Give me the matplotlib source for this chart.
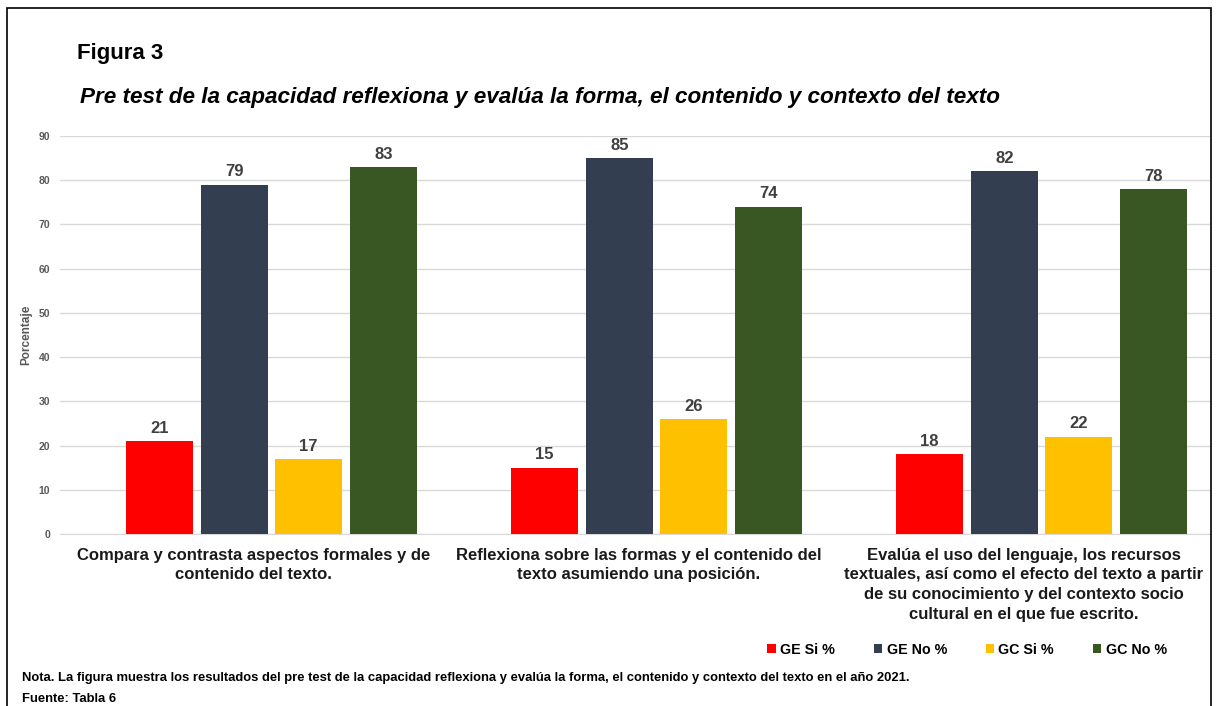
import matplotlib.pyplot as plt
import numpy as np
from matplotlib.patches import Patch, Rectangle

plt.rcParams['font.family'] = ['Liberation Sans', 'DejaVu Sans']

# data
categories = ['Compara y contrasta aspectos formales y de\ncontenido del texto.',
              'Reflexiona sobre las formas y el contenido del\ntexto asumiendo una posición.',
              'Evalúa el uso del lenguaje, los recursos\ntextuales, así como el efecto del texto a partir\nde su conocimiento y del contexto socio\ncultural en el que fue escrito.']
series_names = ['GE Si %', 'GE No %', 'GC Si %', 'GC No %']
ge_si = [21, 15, 18]
ge_no = [79, 85, 82]
gc_si = [17, 26, 22]
gc_no = [83, 74, 78]
yticks = list(range(0, 91, 10))

colors = ['#FF0000', '#333F50', '#FFC000', '#385723']
all_series = [ge_si, ge_no, gc_si, gc_no]

fig = plt.figure(figsize=(12.16, 7.06), dpi=100)
ax = fig.add_axes([60/1216, (706-534)/706, (1211-60)/1216, (534-136)/706])

x = np.arange(len(categories))
offsets = [-0.291, -0.096, 0.096, 0.291]
bw = 0.174
for vals, off, col in zip(all_series, offsets, colors):
    bars = ax.bar(x + off, vals, width=bw, color=col, zorder=3)
    for b, v in zip(bars, vals):
        ax.text(b.get_x() + b.get_width()/2, v + 1.2, str(v), ha='center', va='bottom',
                fontsize=12, fontweight='bold', color='#404040')

ax.set_xlim(-0.549, 2.44)
ax.set_ylim(0, 90)
ax.set_yticks(yticks)
ax.tick_params(axis='y', length=0, labelsize=7.5, labelcolor='#595959', pad=7)
for lbl in ax.get_yticklabels():
    lbl.set_fontweight('bold')
# labels sit a little left of the bar groups in the original
ax.set_xticks(x - 0.047)
ax.set_xticklabels(categories, fontsize=12, fontweight='bold', color='#1a1a1a', linespacing=1.38)
ax.tick_params(axis='x', length=0, pad=10)
ax.grid(axis='y', color='#D9D9D9', linewidth=1, zorder=0)
for s in ['top', 'right', 'left']:
    ax.spines[s].set_visible(False)
ax.spines['bottom'].set_color('#D9D9D9')
ax.set_ylabel('Porcentaje', fontsize=8.5, fontweight='bold', color='#595959')
ax.yaxis.set_label_coords(-0.0245, 0.5)

# titles and notes
fig.text(77/1216, 1 - 53/706, 'Figura 3', fontsize=16, fontweight='bold', va='center')
fig.text(80/1216, 1 - 98/706,
         'Pre test de la capacidad reflexiona y evalúa la forma, el contenido y contexto del texto',
         fontsize=16.2, fontweight='bold', style='italic', va='center')
fig.text(22/1216, 1 - 678/706,
         'Nota. La figura muestra los resultados del pre test de la capacidad reflexiona y evalúa la forma, el contenido y contexto del texto en el año 2021.',
         fontsize=9.4, fontweight='bold', va='center')
fig.text(22/1216, 1 - 699/706, 'Fuente: Tabla 6', fontsize=9.4, fontweight='bold', va='center')

handles = [Patch(facecolor=c) for c in colors]
leg = fig.legend(handles, series_names, loc='center', bbox_to_anchor=(967/1216, 1 - 650/706),
                 ncol=4, frameon=False, handlelength=0.6, handleheight=0.6, handletextpad=0.3,
                 columnspacing=2.7, prop={'size': 10.3, 'weight': 'bold'})

# border
fig.patches.append(Rectangle((7/1216, -0.05), (1211-7)/1216, 1.05 - 8/706, transform=fig.transFigure,
                             fill=False, edgecolor='black', linewidth=1.2))

fig.savefig('out.png', dpi=100)
